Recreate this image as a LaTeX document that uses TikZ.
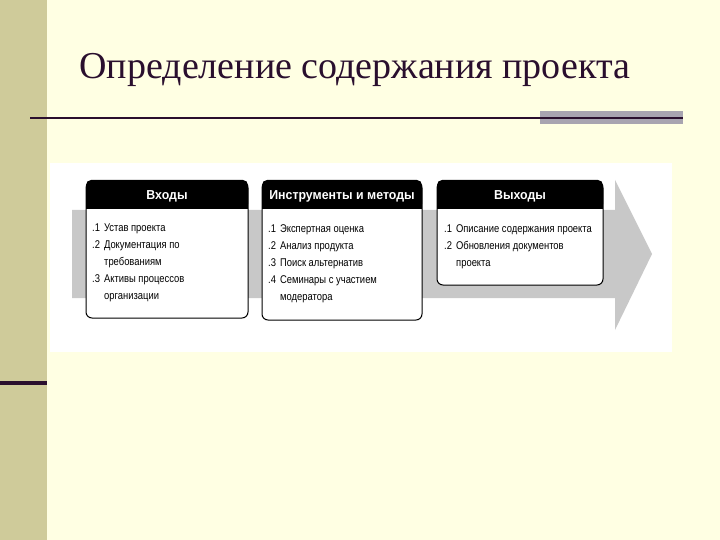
\documentclass[tikz,border=0pt]{standalone}
\usepackage{fontspec}
\setmainfont{Liberation Serif}
\newfontfamily\nar[FakeStretch=0.84]{Liberation Sans}
\newfontfamily\hfont[FakeStretch=0.95]{Liberation Sans}
\definecolor{bg}{HTML}{FFFFE3}
\definecolor{olive}{HTML}{CFCB9A}
\definecolor{dpurp}{HTML}{2A0F2E}
\definecolor{gpurp}{HTML}{A8A4B0}
\definecolor{arr}{HTML}{C8C8C8}
\tikzset{
 hdr/.style={fill=black,rounded corners=5pt},
 bx/.style={draw=black,line width=1pt,fill=white,rounded corners=6pt},
 ht/.style={text=white,font=\hfont\bfseries\fontsize{13}{15}\selectfont},
 it/.style={anchor=north west,align=left,inner sep=0pt,font=\nar\fontsize{11.2}{17}\selectfont}
}
\begin{document}
\begin{tikzpicture}[x=1pt,y=-1pt]
\useasboundingbox (0,0) rectangle (720,540);
\fill[bg] (0,0) rectangle (720,540);
\fill[olive] (0,0) rectangle (47,540);
\fill[dpurp] (0,381) rectangle (47,385);
\node[anchor=west,font=\fontsize{38}{44}\selectfont,text=dpurp] (title) at (76,70) {Определение содержания проекта};
\fill[gpurp] (540,111) rectangle (683,124);
\draw[dpurp,line width=1.6pt] (30,118) -- (683,118);
\fill[white] (50,163) rectangle (672,352);
\fill[arr] (72,210) -- (615,210) -- (615,180) -- (652,254) -- (615,330) -- (615,298) -- (72,298) -- cycle;
% boxes
\draw[bx] (86,182) rectangle (248,318);
\fill[hdr] (86,180) rectangle (248,209); \fill (86,200) rectangle (248,209);
\draw[bx] (262,182) rectangle (422,320);
\fill[hdr] (262,180) rectangle (422,209); \fill (262,200) rectangle (422,209);
\draw[bx] (437,182) rectangle (603,285);
\fill[hdr] (437,180) rectangle (603,209); \fill (437,200) rectangle (603,209);
\node[ht] (h1) at (167,196) {Входы};
\node[ht] (h2) at (342,196) {Инструменты и методы};
\node[ht] (h3) at (520,196) {Выходы};
\node[it] (t1) at (92,224) {.1\hspace{4pt}Устав проекта\\.2\hspace{4pt}Документация по\\\hspace{12pt}требованиям\\.3\hspace{4pt}Активы процессов\\\hspace{12pt}организации};
\node[it] (t2) at (268,224) {.1\hspace{4pt}Экспертная оценка\\.2\hspace{4pt}Анализ продукта\\.3\hspace{4pt}Поиск альтернатив\\.4\hspace{4pt}Семинары с участием\\\hspace{12pt}модератора};
\node[it] (t3) at (444,224) {.1\hspace{4pt}Описание содержания проекта\\.2\hspace{4pt}Обновления документов\\\hspace{12pt}проекта};
\end{tikzpicture}
\end{document}
